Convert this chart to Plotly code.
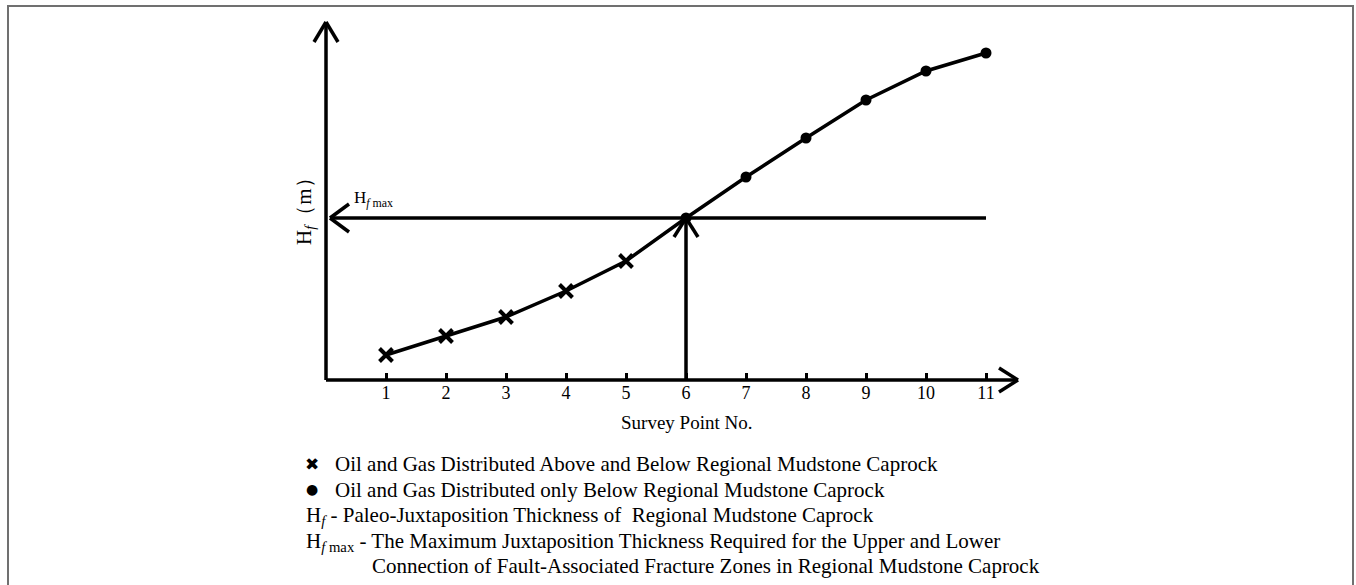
import plotly.graph_objects as go

# ---- data ----
survey_points = [1, 2, 3, 4, 5, 6, 7, 8, 9, 10, 11]
hf_values = [25, 44, 63, 89, 119, 162, 203, 242, 280, 309, 327]
above_below_points = [1, 2, 3, 4, 5]
below_only_points = [6, 7, 8, 9, 10, 11]
hf_max = 162
x_tick_labels = [str(p) for p in survey_points]

# ---- geometry helpers (pixel layout) ----
W_PX, H_PX = 1356, 585
XR = [-1, 12.5]
YR = [-20, 370]
PX_PER_X = 60
L = 326 - (0 - XR[0]) * PX_PER_X          # 266
PLOT_W = (XR[1] - XR[0]) * PX_PER_X       # 810
R = W_PX - L - PLOT_W
T = 10
PLOT_H = YR[1] - YR[0]                    # 390 px (1 px per unit)
B = H_PX - T - PLOT_H

def px(x):
    return (x - L) / PLOT_W

def py(y):
    return (T + PLOT_H - y) / PLOT_H

ux = 1.0 / PX_PER_X  # data units per pixel in x
uy = 1.0             # data units per pixel in y

FONT = "Liberation Serif"
BLACK = "#000000"

fig = go.Figure()

hf_lookup = dict(zip(survey_points, hf_values))

# curve
fig.add_trace(go.Scatter(
    x=survey_points, y=hf_values, mode="lines",
    line=dict(color=BLACK, width=3.5), hoverinfo="skip", showlegend=False))
# X markers
fig.add_trace(go.Scatter(
    x=above_below_points, y=[hf_lookup[p] for p in above_below_points], mode="markers",
    marker=dict(symbol="x-thin", size=13, line=dict(color=BLACK, width=4)),
    showlegend=False))
# dot markers
fig.add_trace(go.Scatter(
    x=below_only_points, y=[hf_lookup[p] for p in below_only_points], mode="markers",
    marker=dict(symbol="circle", size=11, color=BLACK),
    showlegend=False))

shapes = []
lw = 3.5
def seg(x0, y0, x1, y1, w=lw):
    shapes.append(dict(type="line", xref="x", yref="y", x0=x0, y0=y0, x1=x1, y1=y1,
                       line=dict(color=BLACK, width=w), layer="above"))

x_end = survey_points[-1] + 32 * ux       # axis arrow tip
y_end = 358
# y axis with arrow
seg(0, 0, 0, y_end)
seg(0, y_end, -12 * ux, y_end - 20 * uy)
seg(0, y_end, 12 * ux, y_end - 20 * uy)
# x axis with arrow
seg(0, 0, x_end, 0)
seg(x_end, 0, x_end - 19 * ux, 12 * uy)
seg(x_end, 0, x_end - 19 * ux, -12 * uy)
# Hfmax horizontal line with left arrow
x_left = 4 * ux
seg(x_left, hf_max, survey_points[-1], hf_max)
seg(x_left, hf_max, x_left + 19 * ux, hf_max + 14 * uy)
seg(x_left, hf_max, x_left + 19 * ux, hf_max - 14 * uy)
# vertical arrow at point 6
xv = below_only_points[0]
seg(xv, 0, xv, hf_max)
seg(xv, hf_max, xv - 12 * ux, hf_max - 19 * uy)
seg(xv, hf_max, xv + 12 * ux, hf_max - 19 * uy)

# outer frame (gray)
shapes.append(dict(type="rect", xref="paper", yref="paper",
                   x0=px(8), x1=px(1353), y0=py(620), y1=py(6),
                   line=dict(color="#707070", width=2), fillcolor="rgba(0,0,0,0)"))

annotations = []
def text(x, y, s, size=21, xanchor="left", angle=0):
    annotations.append(dict(xref="paper", yref="paper", x=px(x), y=py(y), text=s,
                            showarrow=False, xanchor=xanchor, yanchor="middle",
                            textangle=angle, font=dict(family=FONT, size=size, color=BLACK)))

text(686, 422, "Survey Point No.", size=19, xanchor="center")
text(305, 206, "H<sub><i>f</i></sub>（m）", size=21, xanchor="center", angle=-90)
text(352, 199, "H<sub><i>f</i> max</sub>", size=17)

annotations.append(dict(xref="paper", yref="paper", x=px(312), y=py(464), text="✖",
                        showarrow=False, xanchor="center", yanchor="middle",
                        font=dict(family="DejaVu Sans", size=17, color=BLACK)))
annotations.append(dict(xref="paper", yref="paper", x=px(312), y=py(489), text="●",
                        showarrow=False, xanchor="center", yanchor="middle",
                        font=dict(family="DejaVu Sans", size=14, color=BLACK)))
text(333, 464, "Oil and Gas Distributed Above and Below Regional Mudstone Caprock")
text(333, 490, "Oil and Gas Distributed only Below Regional Mudstone Caprock")
text(304, 516, "H<sub><i>f</i></sub> - Paleo-Juxtaposition Thickness of  Regional Mudstone Caprock")
text(304, 542, "H<sub><i>f</i> max</sub> - The Maximum Juxtaposition Thickness Required for the Upper and Lower")
text(370, 566, "Connection of Fault-Associated Fracture Zones in Regional Mudstone Caprock")

fig.update_layout(
    width=W_PX, height=H_PX,
    margin=dict(l=L, r=R, t=T, b=B, pad=0),
    paper_bgcolor="white", plot_bgcolor="white",
    shapes=shapes, annotations=annotations,
    xaxis=dict(range=XR, tickvals=survey_points, ticktext=x_tick_labels,
               showgrid=False, zeroline=False, showline=False,
               ticks="inside", ticklen=7, tickwidth=3, tickcolor=BLACK,
               anchor="free", position=(0 - YR[0]) / PLOT_H,
               tickfont=dict(family=FONT, size=18, color=BLACK)),
    yaxis=dict(range=YR, visible=False),
)

fig.write_html("out.html", config={"displayModeBar": False},
               post_script="document.body.style.margin='0';document.body.style.overflow='hidden';")
